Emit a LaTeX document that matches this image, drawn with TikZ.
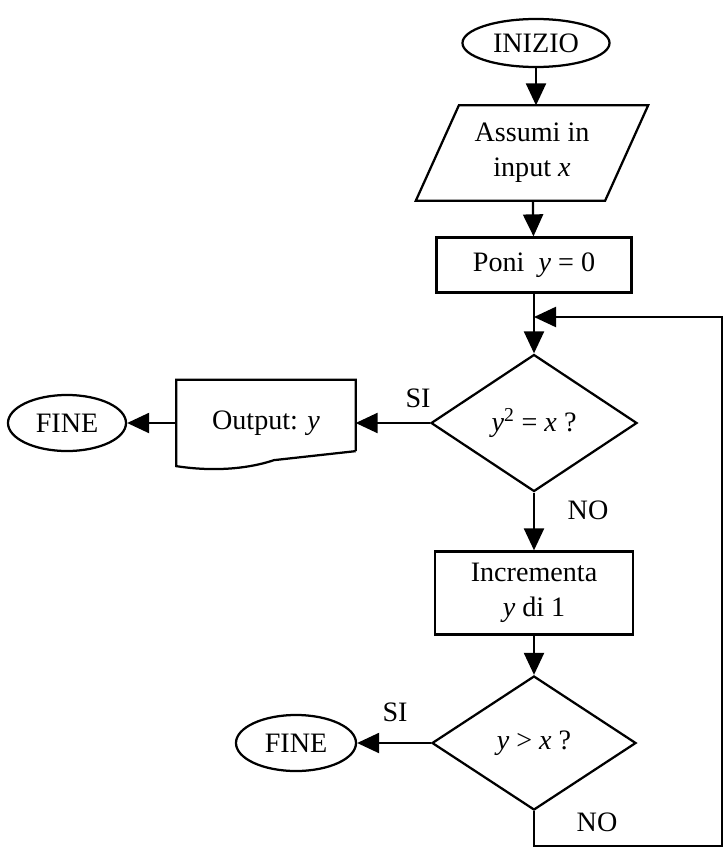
\documentclass[tikz,border=0pt]{standalone}
\usepackage{fontspec}
\setmainfont{Liberation Serif}
\usetikzlibrary{arrows.meta,calc,shapes.geometric}

\begin{document}
\begin{tikzpicture}[x=0.025cm,y=-0.025cm,line width=1.6pt,
  font=\fontsize{20}{25}\selectfont,
  arr/.style={-{Triangle[length=0.55cm,width=0.5cm]}},
  term/.style={draw,ellipse,inner sep=0pt},
  proc/.style={draw,rectangle,align=center,inner sep=2pt},
  cond/.style={draw,diamond,aspect=1.5,inner sep=0pt,minimum width=5.15cm,minimum height=3.425cm},
  io/.style={rectangle,align=center,inner sep=0pt}]
  \useasboundingbox (0,0) rectangle (725,848);

  \node[term,minimum width=3.675cm,minimum height=1.2cm] (inizio) at (536,43) {INIZIO};
  \node[io,minimum width=4.675cm,minimum height=2.325cm] (input) at (532,153) {Assumi in\\input \textit{x}};
  \node[proc,minimum width=4.875cm,minimum height=1.375cm] (poni) at (534,265) {Poni~ \textit{y} = 0};
  \node[cond] (done) at (534,423) {\textit{y}\textsuperscript{2} = \textit{x} ?};
  \node[proc,minimum width=4.95cm,minimum height=2.075cm] (incr) at (534,593) {Incrementa\\\textit{y} di 1};
  \node[cond,minimum width=5.1cm,minimum height=3.35cm] (dtwo) at (534,743) {\textit{y} > \textit{x} ?};
  \node[minimum width=4.425cm,minimum height=2.1cm] (out) at (266,423) {Output: \textit{y}};
  \node[term,minimum width=2.95cm,minimum height=1.4cm] (fineA) at (67,423) {FINE};
  \node[term,minimum width=3cm,minimum height=1.4cm] (fineB) at (296,743) {FINE};

  % slanted input box and output sheet with wavy lower edge
  \draw ($(input.north west)+(21.5,0)$) -- ($(input.north east)+(21.5,0)$)
    -- ($(input.south east)+(-21.5,0)$) -- ($(input.south west)+(-21.5,0)$) -- cycle;
  \draw ($(out.south east)+(0,-15)$) -- (out.north east) -- (out.north west) -- (out.south west)
    .. controls +(32,5) and +(-30,10) .. ($(out.south)+(8,-6)$) -- ($(out.south east)+(0,-15)$);

  \coordinate (loopb) at (722,846);
  \coordinate (loopc) at (722,317);
  \coordinate (join) at (534,317);

  \draw[arr] (inizio) -- (inizio |- input.north);
  \draw[arr] (input) -- (poni);
  \draw[arr] (poni) -- (done);
  \draw[arr] (done) -- (incr);
  \draw[arr] (incr) -- (dtwo);
  \draw[arr] (done) -- (out);
  \draw[arr] (out) -- (fineA);
  \draw[arr] (dtwo) -- (fineB);
  \draw[arr] (dtwo.south) |- (loopb) -- (loopc) -- (join);

  \node (siA) at (418,398) {SI};
  \node (noA) at (588,510) {NO};
  \node (siB) at (395,712) {SI};
  \node (noB) at (597,822) {NO};
\end{tikzpicture}
\end{document}
